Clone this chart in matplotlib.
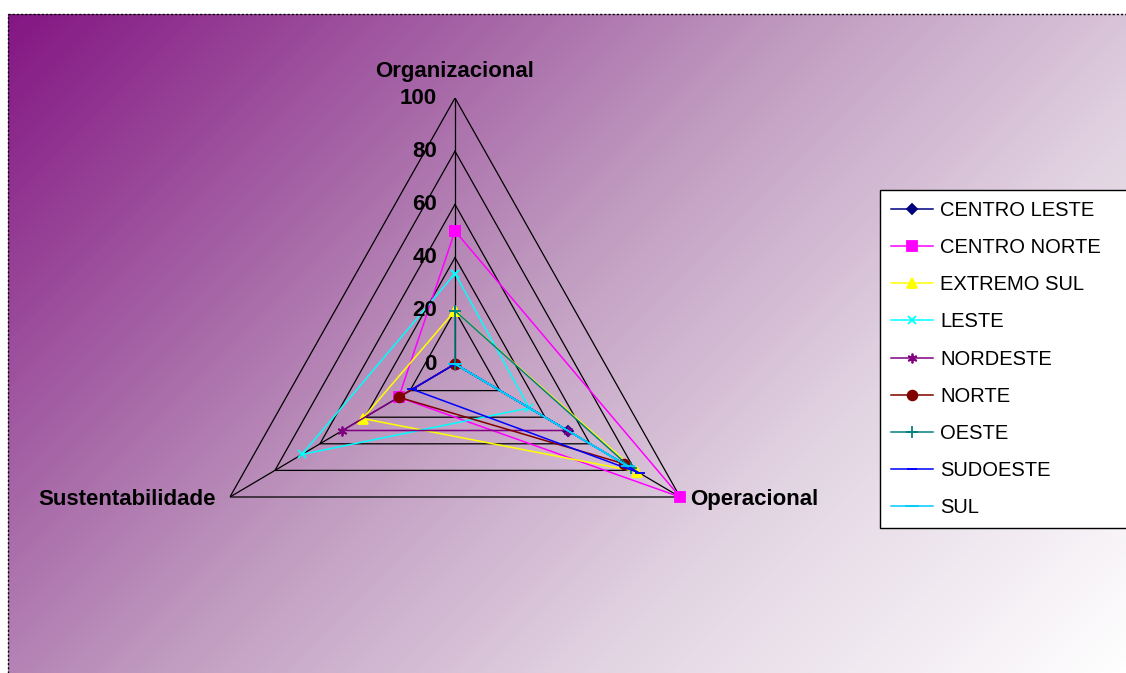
import matplotlib
matplotlib.use('Agg')
import matplotlib.pyplot as plt
import numpy as np
from matplotlib.colors import LinearSegmentedColormap
from matplotlib.lines import Line2D

# Eixos do radar e series por regiao
categorias = ['Organizacional', 'Operacional', 'Sustentabilidade']
niveis = [0, 20, 40, 60, 80, 100]

regioes = ['CENTRO LESTE', 'CENTRO NORTE', 'EXTREMO SUL', 'LESTE', 'NORDESTE',
           'NORTE', 'OESTE', 'SUDOESTE', 'SUL']
centro_leste = [0, 50, 0]
centro_norte = [50, 100, 25]
extremo_sul = [20, 81, 41]
leste = [34, 33, 68]
nordeste = [0, 50, 50]
norte = [0, 75, 25]
oeste = [20, 78, 0]
sudoeste = [0, 82, 19]
sul = [0, 77, 0]
valores = [centro_leste, centro_norte, extremo_sul, leste, nordeste,
           norte, oeste, sudoeste, sul]

cores = ['#000080', '#FF00FF', '#FFFF00', '#00FFFF', '#800080',
         '#800000', '#008080', '#0000FF', '#00CCFF']
marcadores = ['D', 's', '^', 'x', (6, 2, 0), 'o', '+', '_', '_']
tam_marc = [5, 7, 7, 6, 7, 7, 8, 7, 10]

W, H = 1126, 673
fig = plt.figure(figsize=(W / 100, H / 100), dpi=100)
fig.patch.set_facecolor('white')

# fundo em degrade (roxo no canto superior esquerdo -> branco)
bg = fig.add_axes([8 / W, 0, 1 - 8 / W, 1 - 14 / H], zorder=0)
bw, bh = W - 8, H - 14
xx, yy = np.meshgrid(np.arange(bw), np.arange(bh))
t = (xx + yy) / (bw + bh)
cmap = LinearSegmentedColormap.from_list('fundo', [
    (0.0, (132 / 255, 22 / 255, 132 / 255)),
    (0.3, (170 / 255, 110 / 255, 170 / 255)),
    (0.45, (192 / 255, 155 / 255, 192 / 255)),
    (0.7, (226 / 255, 212 / 255, 226 / 255)),
    (1.0, (1, 1, 1))])
bg.imshow(t, cmap=cmap, aspect='auto', interpolation='bilinear')
bg.axis('off')

# borda tracejada da area do grafico
ly = 1 - 14 / H
fig.add_artist(Line2D([8 / W, 1], [ly, ly], color='black', lw=1,
                      linestyle=(0, (1.5, 1.5)), zorder=5))
fig.add_artist(Line2D([8 / W, 8 / W], [0, ly], color='black', lw=1,
                      linestyle=(0, (1.5, 1.5)), zorder=5))

# radar (um pouco mais estreito na horizontal)
cx, cy, raio = 455, H - 364, 266
larg = 2 * raio * 0.977
ax = fig.add_axes([(cx - larg / 2) / W, (cy - raio) / H, larg / W, 2 * raio / H],
                  projection='polar', zorder=2)
ax.set_aspect('auto')
ax.set_theta_zero_location('N')
ax.set_theta_direction(-1)
ax.set_ylim(0, 100)
ax.patch.set_alpha(0)
ax.spines['polar'].set_visible(False)
ax.grid(False)
ax.set_xticks([])
ax.set_yticks([])

angulos = np.deg2rad([0, 120, 240])
fechado = np.append(angulos, angulos[0])

for n in niveis[1:]:
    ax.plot(fechado, [n] * 4, color='black', lw=0.9, zorder=1)
for a in angulos:
    ax.plot([a, a], [0, 100], color='black', lw=0.9, zorder=1)

handles = []
for nome, v, c, m, ms in zip(regioes, valores, cores, marcadores, tam_marc):
    vv = v + [v[0]]
    ln, = ax.plot(fechado, vv, color=c, lw=1.1, marker=m, markersize=ms,
                  markeredgecolor=c, markerfacecolor=c, markeredgewidth=1.3,
                  zorder=3, label=nome, clip_on=False)
    handles.append(ln)

fonte_b = {'family': 'Liberation Sans', 'weight': 'bold'}
for n in niveis:
    ax.annotate(str(n), xy=(0, n), xytext=(-13, 0), textcoords='offset points',
                ha='right', va='center', fontsize=16, **fonte_b)

ax.annotate(categorias[0], xy=(angulos[0], 100), xytext=(0, 19),
            textcoords='offset points', ha='center', va='center',
            fontsize=16, **fonte_b)
ax.annotate(categorias[1], xy=(angulos[1], 100), xytext=(7, -2),
            textcoords='offset points', ha='left', va='center',
            fontsize=16, **fonte_b)
ax.annotate(categorias[2], xy=(angulos[2], 100), xytext=(-10, -2),
            textcoords='offset points', ha='right', va='center',
            fontsize=16, **fonte_b)

# legenda encostada na borda direita (sai um pouco da figura)
leg = fig.legend(handles=handles, loc='upper left', mode='expand',
                 bbox_to_anchor=(880 / W, 1 - 190 / H, 262 / W, 0),
                 borderaxespad=0,
                 prop={'family': 'Liberation Sans', 'size': 14.5},
                 frameon=True, fancybox=False, framealpha=1, edgecolor='black',
                 handlelength=2.1, handletextpad=0.35, borderpad=0.55,
                 labelspacing=0.9)
leg.get_frame().set_linewidth(1)
leg.set_zorder(6)

fig.savefig('out.png', dpi=100)
